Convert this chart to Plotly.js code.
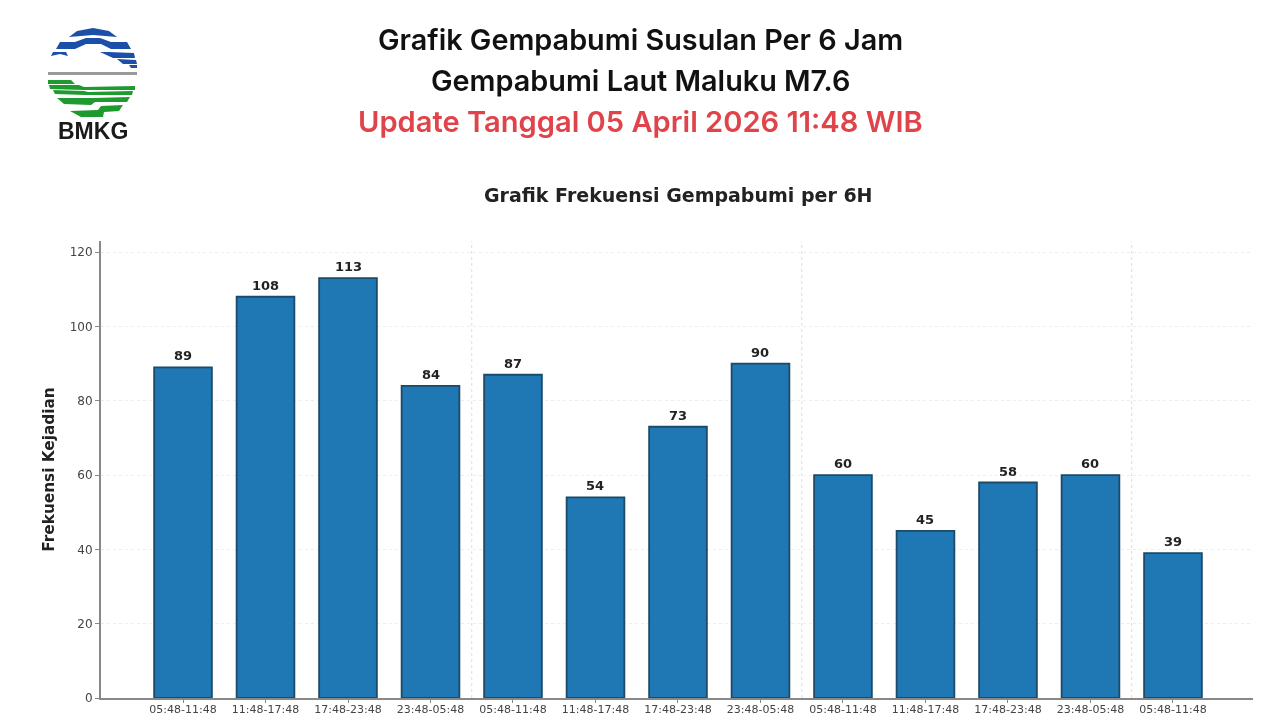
<!DOCTYPE html>
<html><head><meta charset="utf-8">
<script src="https://cdn.plot.ly/plotly-3.0.1.min.js"></script>
<style>html,body{margin:0;padding:0;background:#fff;overflow:hidden}#c{width:1280px;height:720px;filter:blur(0.45px)}</style>
</head><body><div id="c"></div>
<script>
const periods=["05:48-11:48","11:48-17:48","17:48-23:48","23:48-05:48","05:48-11:48","11:48-17:48","17:48-23:48","23:48-05:48","05:48-11:48","11:48-17:48","17:48-23:48","23:48-05:48","05:48-11:48"];
const counts=[89,108,113,84,87,54,73,90,60,45,58,60,39];
const positions=[0,1,2,3,4,5,6,7,8,9,10,11,12];
const dayBoundaries=[3.5,7.5,11.5];
const yTicks=[0,20,40,60,80,100,120];
const titleLines=["Grafik Gempabumi Susulan Per 6 Jam","Gempabumi Laut Maluku M7.6","Update Tanggal 05 April 2026 11:48 WIB"];
const chartTitle="Grafik Frekuensi Gempabumi per 6H";
const yTitle="Frekuensi Kejadian";
const logoText="BMKG";

const W=1280,H=720,mL=101,mR=27,mT=241,mB=22;
const px=x=>(x-mL)/(W-mL-mR), py=y=>1-(y-mT)/(H-mT-mB);
function logoPath(pts,fill){
  const d=pts.map((p,i)=>(i?'L':'M')+px(p[0])+','+py(p[1])).join(' ')+' Z';
  return {type:'path',xref:'paper',yref:'paper',path:d,fillcolor:fill,line:{width:0},layer:'above'};
}
const B='#1c4fa8',G='#1f9a2e';
const logo=[
 logoPath([[69,37],[77,31],[93,28],[109,31],[117,37],[105,36],[93,35],[81,36]],B),
 logoPath([[56,49],[60,42],[75,42],[86,38],[100,38],[111,42],[127,42],[131,49],[111,49],[101,44],[86,44],[75,49]],B),
 logoPath([[51,56],[53,52],[66,52],[68,56],[60,54]],B),
 logoPath([[100,52],[108,52],[134,53],[135,58],[113,58]],B),
 logoPath([[117,59],[136,60],[137,64],[123,64]],B),
 logoPath([[129,65],[137,65],[137,68],[131,68]],B),
 logoPath([[48,72],[137,72],[137,75],[48,75]],'#9a9a9a'),
 logoPath([[48,80],[71,80],[75,84],[48,84]],G),
 logoPath([[49,85],[79,85],[84,87],[135,86],[135,90],[83,90],[50,89]],G),
 logoPath([[53,90],[84,91],[88,92],[133,91],[132,95],[86,95],[55,94]],G),
 logoPath([[57,98],[84,98],[94,98],[130,97],[127,102],[95,102],[91,105],[64,104]],G),
 logoPath([[70,111],[98,110],[101,106],[123,105],[119,111],[104,112],[103,117],[81,117]],G)
];
const grid=dayBoundaries.map(v=>({type:'line',xref:'x',yref:'paper',x0:v,x1:v,y0:0,y1:1,line:{color:'#dddddd',width:1,dash:'dot'},layer:'below'}));
const ann=(t,x,y,size,color,fam,w)=>({text:t,xref:'paper',yref:'paper',x:px(x),y:py(y),showarrow:false,xanchor:'center',yanchor:'middle',font:{size:size,color:color,family:fam,weight:w}});
const TF='Inter, Roboto, sans-serif', DF='"DejaVu Sans", sans-serif';
const valueLabels=counts.map((v,i)=>({text:String(v),xref:'x',yref:'y',x:positions[i],y:v,yshift:11.5,showarrow:false,xanchor:'center',yanchor:'middle',font:{family:DF,size:13,color:'#222',weight:700}}));
const data=[{type:'bar',x:positions,y:counts,width:0.7,
  marker:{color:'#1f77b4',line:{color:'#1d4a68',width:1.8}},
  hoverinfo:'skip'}];
const layout={width:W,height:H,margin:{l:mL,r:mR,t:mT,b:mB,pad:0},paper_bgcolor:'#fff',plot_bgcolor:'#fff',showlegend:false,
 xaxis:{range:[-0.994,12.97],tickvals:positions,ticktext:periods,tickangle:0,showgrid:false,zeroline:false,showline:true,linecolor:'#888',linewidth:2,ticks:'outside',ticklen:3,tickcolor:'#888',ticklabelstandoff:-3,tickfont:{family:DF,size:11,color:'#444'}},
 yaxis:{range:[0,123],tickvals:yTicks,ticktext:yTicks.map(String),showgrid:true,gridcolor:'#ededed',griddash:'dot',gridwidth:1,zeroline:false,showline:true,linecolor:'#888',linewidth:2,ticks:'outside',ticklen:4,tickcolor:'#888',tickfont:{family:DF,size:12,color:'#444'},title:{text:yTitle,font:{family:DF,size:15.3,color:'#222',weight:700},standoff:11}},
 shapes:grid.concat(logo),
 annotations:[
  ann(titleLines[0],640.5,39.5,28.8,'#111',TF,600),
  ann(titleLines[1],640,80.5,28.8,'#111',TF,600),
  ann(titleLines[2],640.5,121.5,29.1,'#e0444a',TF,600),
  ann(chartTitle,678,195,19,'#222',DF,700),
  ann(logoText,93,131,23,'#1a1a1a','Liberation Sans, Arial, sans-serif',700)
 ].concat(valueLabels)};
Plotly.newPlot('c',data,layout,{staticPlot:true,displayModeBar:false});
</script></body></html>
